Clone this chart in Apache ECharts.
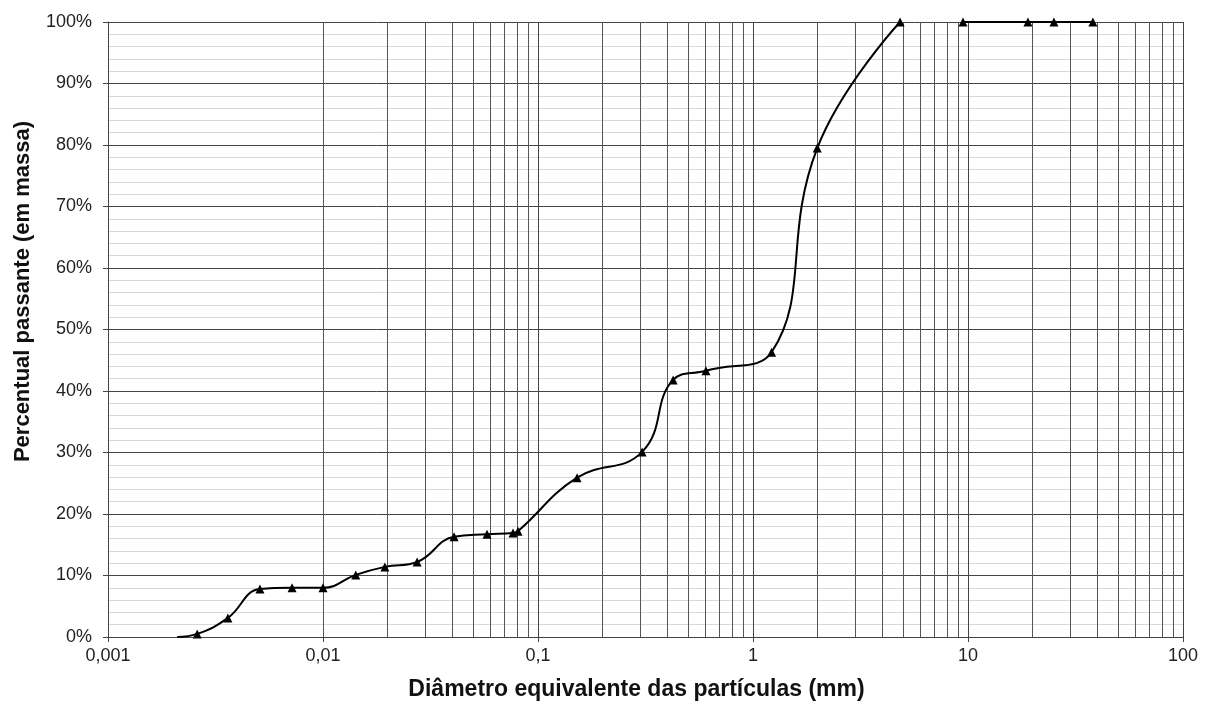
<!DOCTYPE html>
<html>
<head>
<meta charset="utf-8">
<script src="https://cdn.jsdelivr.net/npm/echarts@6/dist/echarts.min.js"></script>
<style>html,body{margin:0;padding:0;background:#fff}#c{width:1208px;height:704px}</style>
</head>
<body>
<div id="c"></div>
<script>
// Granulometric curve data (diameter in mm, % passing by mass)
const curveDiameters = [0.0021, 0.0026, 0.00361, 0.00509, 0.00718, 0.0100, 0.0142, 0.0194, 0.0274, 0.0407, 0.0579, 0.0765, 0.0807, 0.152, 0.305, 0.425, 0.604, 1.22, 1.99, 4.83];
const curvePassing   = [0.0,    0.5,    3.1,     7.8,     8.0,     8.0,    10.1,   11.4,   12.2,   16.3,   16.7,   16.9,   17.2,   25.9,  30.1,  41.8,  43.3,  46.3, 79.5, 100];
const topDiameters = [9.48, 19.0, 25.1, 38.1];
const topPassing   = [100, 100, 100, 100];
const xTickLabels = ['0,001', '0,01', '0,1', '1', '10', '100'];
const yTickLabels = ['0%', '10%', '20%', '30%', '40%', '50%', '60%', '70%', '80%', '90%', '100%'];

const curveData = curveDiameters.map((d, i) => i === 0 ? {value: [d, curvePassing[i]], symbol: 'none'} : [d, curvePassing[i]]);
const topData = topDiameters.map((d, i) => [d, topPassing[i]]);

// minor vertical grid lines at 2..9 x 10^k
const minorLines = [];
for (let k = -3; k <= 1; k++) {
  for (let m = 2; m <= 9; m++) {
    minorLines.push({xAxis: parseFloat((m * Math.pow(10, k)).toPrecision(3))});
  }
}

const font = 'Liberation Sans, Arial, sans-serif';
const chart = echarts.init(document.getElementById('c'), null, {renderer: 'canvas'});
chart.setOption({
  animation: false,
  backgroundColor: '#fff',
  grid: {left: 108, right: 25, top: 22, bottom: 67, containLabel: false, outerBoundsMode: 'none'},
  xAxis: {
    type: 'log', logBase: 10, min: 0.001, max: 100,
    name: 'Diâmetro equivalente das partículas (mm)',
    nameLocation: 'middle', nameGap: 41,
    nameTextStyle: {fontFamily: font, fontSize: 23, fontWeight: 'bold', color: '#111', padding: [0, 18, 0, 0]},
    axisLine: {show: true, lineStyle: {color: '#444', width: 1}},
    axisTick: {show: true, length: 5, lineStyle: {color: '#444'}},
    axisLabel: {
      fontFamily: font, fontSize: 18, color: '#222', margin: 10,
      formatter: function (v) {
        const e = Math.round(Math.log10(v)) + 3;
        return xTickLabels[e] !== undefined ? xTickLabels[e] : '';
      }
    },
    splitLine: {show: true, lineStyle: {color: '#444', width: 1}}
  },
  yAxis: {
    type: 'value', min: 0, max: 100, interval: 10,
    name: 'Percentual passante (em massa)',
    nameLocation: 'middle', nameGap: 74, nameRotate: 90,
    nameTextStyle: {fontFamily: font, fontSize: 22, fontWeight: 'bold', color: '#111', padding: [0, 0, 0, 76]},
    axisLine: {show: true, lineStyle: {color: '#444', width: 1}},
    axisTick: {show: true, length: 5, lineStyle: {color: '#444'}},
    axisLabel: {
      fontFamily: font, fontSize: 18, color: '#222', margin: 16,
      formatter: function (v) { return yTickLabels[Math.round(v / 10)]; }
    },
    splitLine: {show: true, lineStyle: {color: '#444', width: 1}},
    minorTick: {show: false, splitNumber: 5},
    minorSplitLine: {show: true, lineStyle: {color: '#d8d8d8', width: 1}}
  },
  series: [
    {
      type: 'line', data: [], z: 1, silent: true,
      markLine: {
        silent: true, symbol: 'none', label: {show: false},
        lineStyle: {color: '#555', width: 1, type: 'solid'},
        emphasis: {disabled: true},
        data: minorLines
      }
    },
    {
      type: 'line', data: curveData, smooth: 0.45, z: 5,
      symbol: 'triangle', symbolSize: 9,
      lineStyle: {color: '#000', width: 2},
      itemStyle: {color: '#000'}
    },
    {
      type: 'line', data: topData, smooth: false, z: 5,
      symbol: 'triangle', symbolSize: 9,
      lineStyle: {color: '#000', width: 2},
      itemStyle: {color: '#000'}
    }
  ]
});
</script>
</body>
</html>
